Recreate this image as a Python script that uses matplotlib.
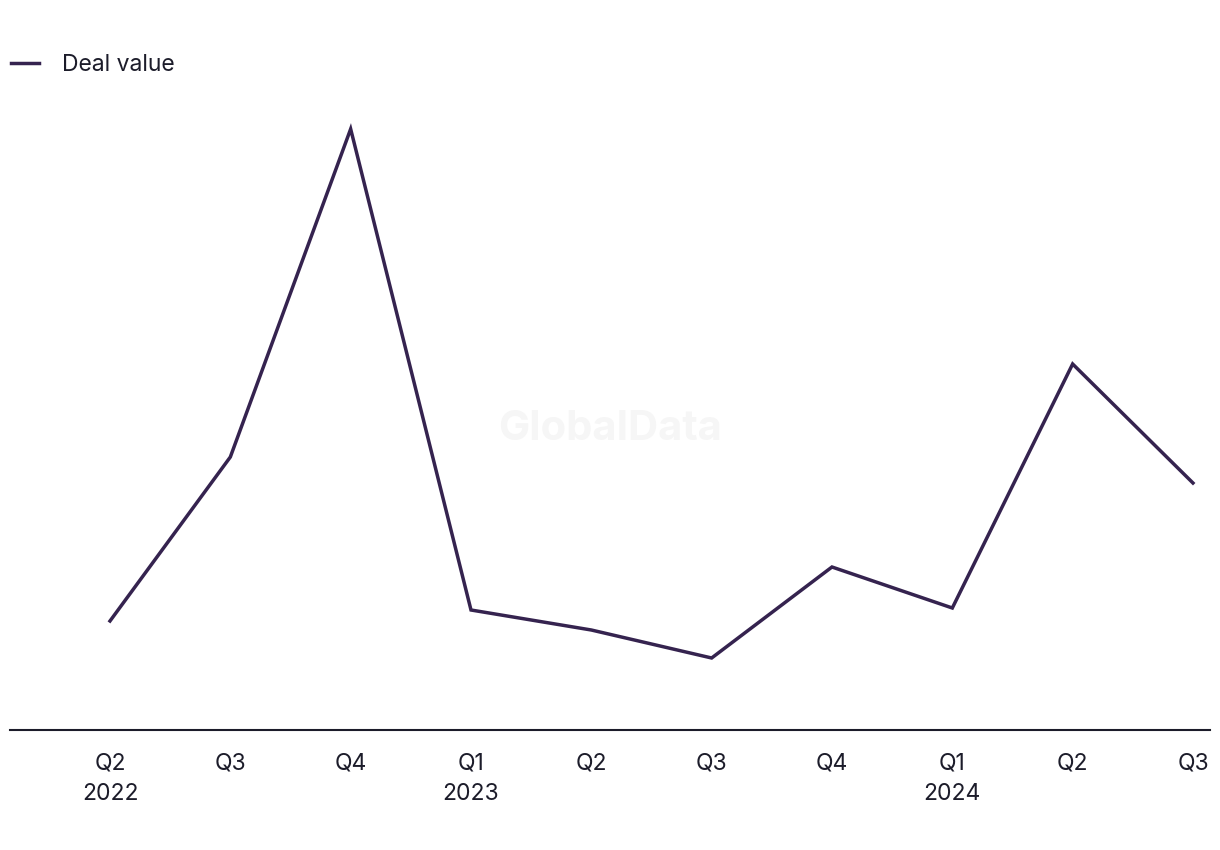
import numpy as np
import matplotlib.pyplot as plt

# quarterly deal value (no y axis shown, arbitrary units)
quarters = ["Q2\n2022", "Q3", "Q4", "Q1\n2023", "Q2", "Q3", "Q4", "Q1\n2024", "Q2", "Q3"]
deal_value = [1.09, 2.73, 6.01, 1.20, 1.00, 0.72, 1.63, 1.22, 3.66, 2.47]

line_color = "#35234f"
text_color = "#1c1c2a"

plt.rcParams['font.family'] = ['Inter', 'DejaVu Sans']

fig = plt.figure(figsize=(12.2, 8.5), dpi=100)
ax = fig.add_axes([10/1220, 120/850, 1200/1220, 650/850])

x = np.arange(len(quarters))
ax.plot(x, deal_value, color=line_color, lw=2.5, label="Deal value", solid_joinstyle='miter')

ax.set_xlim(-100/120.33, 1100/120.33)
ax.set_ylim(0, 6.5)

for side in ['top', 'right', 'left']:
    ax.spines[side].set_visible(False)
ax.spines['bottom'].set_color(text_color)
ax.spines['bottom'].set_linewidth(1.5)

ax.set_yticks([])
ax.set_xticks(x)
ax.set_xticklabels(quarters, fontsize=16.5, color=text_color, linespacing=1.5, va='top')
ax.tick_params(axis='x', length=0, pad=16)

# watermark
fig.text(610/1220, 1 - 429/850, "GlobalData", fontsize=30, fontweight='bold',
         color="#f6f6f6", ha='center', va='center', zorder=0)

leg = fig.legend(loc='upper left', bbox_to_anchor=(2/1220, 1 - 45/850), frameon=False,
                 fontsize=16.5, handlelength=1.2, handletextpad=1.0, borderaxespad=0)
for t in leg.get_texts():
    t.set_color(text_color)

fig.savefig("out.png", dpi=100)
